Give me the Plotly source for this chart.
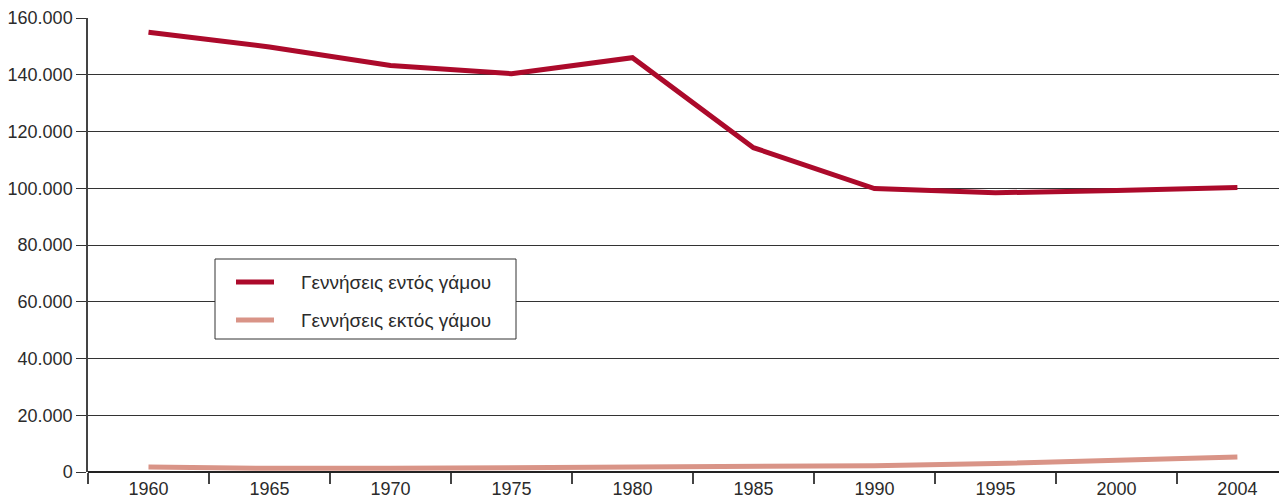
import plotly.graph_objects as go

# Data
years = ["1960", "1965", "1970", "1975", "1980", "1985", "1990", "1995", "2000", "2004"]
births_in_marriage = [155000, 149800, 143300, 140400, 146000, 114300, 99900, 98400, 99200, 100300]
births_out_marriage = [1800, 1300, 1300, 1600, 2000, 2000, 2200, 3000, 4300, 5300]

NAME_IN = "Γεννήσεις εντός γάμου"
NAME_OUT = "Γεννήσεις εκτός γάμου"

COLORS = {
    "in": "#AC0A2B",
    "out": "#D99487",
    "text": "#2B2B2B",
    "grid": "#333333",
}

# page body has an 8px margin, so the figure starts at (8, 8)
OFF = 8
W, H = 1287 - OFF, 500 - OFF
M = dict(l=88 - OFF, r=0, t=18 - OFF, b=28)
PW = W - M["l"] - M["r"]
PH = H - M["t"] - M["b"]
FONT = "Liberation Sans, Arial, Helvetica, sans-serif"


def px_x(x):
    # screen pixel -> paper coordinate
    return (x - OFF - M["l"]) / PW


def px_y(y):
    return (H - M["b"] - (y - OFF)) / PH


fig = go.Figure()
fig.add_trace(go.Scatter(
    x=years, y=births_in_marriage, name=NAME_IN, mode="lines",
    line=dict(color=COLORS["in"], width=5),
))
fig.add_trace(go.Scatter(
    x=years, y=births_out_marriage, name=NAME_OUT, mode="lines",
    line=dict(color=COLORS["out"], width=5),
))

# hand-drawn legend box, as in the original
shapes = [
    dict(type="rect", xref="paper", yref="paper",
         x0=px_x(215), x1=px_x(516), y0=px_y(339), y1=px_y(259),
         line=dict(color="#333333", width=1), fillcolor="white", layer="above"),
]
annotations = []
for ypix, color, name in [(282, COLORS["in"], NAME_IN), (320, COLORS["out"], NAME_OUT)]:
    shapes.append(dict(type="line", xref="paper", yref="paper",
                       x0=px_x(236), x1=px_x(274), y0=px_y(ypix), y1=px_y(ypix),
                       line=dict(color=color, width=5), layer="above"))
    annotations.append(dict(xref="paper", yref="paper", x=px_x(299), y=px_y(ypix),
                            xanchor="left", yanchor="middle", text=name, showarrow=False,
                            font=dict(size=19, color=COLORS["text"], family=FONT)))

fig.update_layout(
    width=W, height=H,
    margin=M,
    paper_bgcolor="white",
    plot_bgcolor="white",
    separators=",.",
    showlegend=False,
    font=dict(family=FONT, size=18, color=COLORS["text"]),
    shapes=shapes,
    annotations=annotations,
    xaxis=dict(
        type="category", range=[-0.5, 9.41], tickson="boundaries",
        ticks="outside", ticklen=11, tickcolor="#444444", tickwidth=1.5,
        ticklabelstandoff=4,
        showline=False, showgrid=False, zeroline=False,
        automargin=False, fixedrange=True,
    ),
    yaxis=dict(
        range=[0, 160000], dtick=20000, tickformat=",d",
        ticks="outside", ticklen=10, tickcolor="#333333",
        showgrid=True, gridcolor=COLORS["grid"], gridwidth=1.3,
        showline=True, linecolor="#444444", linewidth=1.5,
        zeroline=True, zerolinecolor="#222222", zerolinewidth=1.5,
        automargin=False, fixedrange=True,
    ),
)

fig.write_html("out.html")
